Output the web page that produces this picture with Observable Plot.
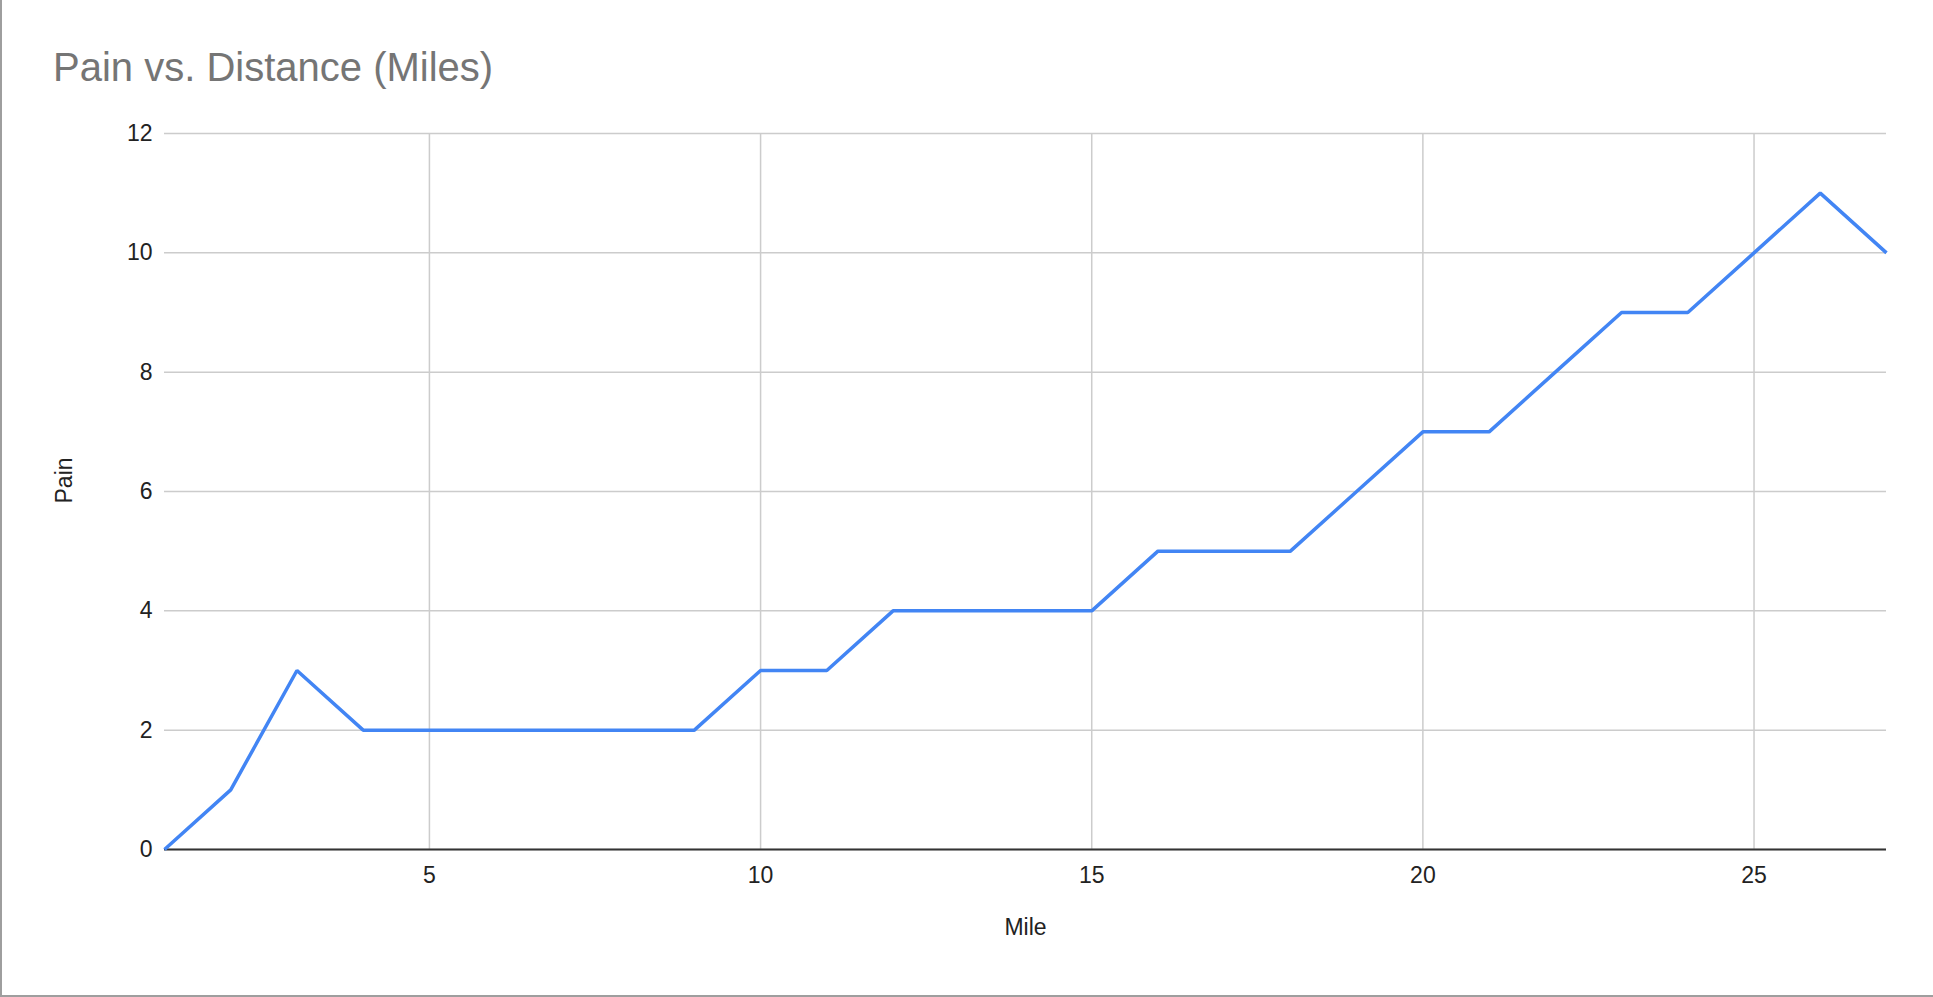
<!DOCTYPE html>
<html>
<head>
<meta charset="utf-8">
<script src="https://cdn.jsdelivr.net/npm/d3@7"></script>
<script src="https://cdn.jsdelivr.net/npm/@observablehq/plot@0.6"></script>
<style>
  html, body { margin: 0; padding: 0; background: #fff; }
  #wrap {
    position: relative; width: 1933px; height: 997px; box-sizing: border-box;
    border-left: 2px solid #9e9e9e; border-bottom: 2px solid #9e9e9e; overflow: hidden;
  }
  #title {
    position: absolute; left: 51px; top: 47px; margin: 0;
    font-family: "Liberation Sans", Arial, sans-serif; font-size: 40px; line-height: 40px;
    font-weight: normal; color: #757575; white-space: nowrap;
  }
  #chart { position: absolute; left: -2px; top: 0; }
</style>
</head>
<body>
<div id="wrap">
  <div id="chart"></div>
  <h1 id="title">Pain vs. Distance (Miles)</h1>
</div>
<script>
const miles = [1, 2, 3, 4, 5, 6, 7, 8, 9, 10, 11, 12, 13, 14, 15, 16, 17, 18, 19, 20, 21, 22, 23, 24, 25, 26, 27];
const pain  = [0, 1, 3, 2, 2, 2, 2, 2, 2, 3, 3, 4, 4, 4, 4, 5, 5, 5, 6, 7, 7, 8, 9, 9, 10, 11, 10];
const xTicks = [5, 10, 15, 20, 25];
const yTicks = [0, 2, 4, 6, 8, 10, 12];
const xLabel = "Mile";
const yLabel = "Pain";

const data = miles.map((m, i) => ({mile: m, pain: pain[i]}));

const chart = Plot.plot({
  width: 1933,
  height: 997,
  marginLeft: 164,
  marginRight: 47,
  marginTop: 133,
  marginBottom: 148,
  style: {fontFamily: "'Liberation Sans', Arial, sans-serif", fontSize: "23px", color: "#222", background: "transparent"},
  x: {domain: [1, 27]},
  y: {domain: [0, 12]},
  marks: [
    Plot.gridX(xTicks, {stroke: "#cccccc", strokeOpacity: 1, strokeWidth: 1.5}),
    Plot.gridY(yTicks, {stroke: "#cccccc", strokeOpacity: 1, strokeWidth: 1.5}),
    Plot.ruleY([0], {stroke: "#333333", strokeWidth: 2}),
    Plot.axisX(xTicks, {tickSize: 0, tickPadding: 17, label: null, fill: "#222", tickFormat: d => String(d)}),
    Plot.axisY(yTicks, {tickSize: 0, tickPadding: 12, label: null, fill: "#222", tickFormat: d => String(d)}),
    Plot.line(data, {x: "mile", y: "pain", stroke: "#4285F4", strokeWidth: 3.5, strokeLinejoin: "miter", strokeLinecap: "butt"}),
    Plot.text([xLabel], {frameAnchor: "bottom", dy: 85, fill: "#222", fontSize: 23}),
    Plot.text([yLabel], {frameAnchor: "left", dx: -100, dy: 12, rotate: -90, fill: "#222", fontSize: 23})
  ]
});
document.getElementById("chart").appendChild(chart);
</script>
</body>
</html>
